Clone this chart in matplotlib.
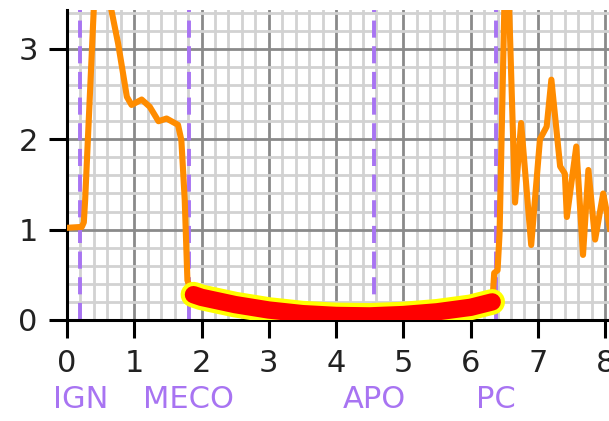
"""Flight-profile strip: orange telemetry trace with event markers and a
highlighted coast-phase fit drawn as a thick red band with a yellow halo."""

import matplotlib.pyplot as plt
import matplotlib.patheffects as pe
from matplotlib.ticker import AutoMinorLocator, MultipleLocator

# telemetry trace (time, value)
TRACE_T = [0.0, 0.22, 0.25, 0.27, 0.45, 0.66, 0.76, 0.89, 0.96, 1.11, 1.23,
           1.36, 1.48, 1.65, 1.70, 1.75, 1.79, 1.85, 2.5, 3.5, 4.5, 5.5, 6.33,
           6.35, 6.40, 6.43, 6.53, 6.66, 6.75, 6.90, 7.03, 7.13, 7.20, 7.28,
           7.33, 7.40, 7.43, 7.57, 7.67, 7.75, 7.85, 7.97, 8.10]
TRACE_Y = [1.02, 1.03, 1.08, 1.33, 4.30, 3.43, 3.06, 2.47, 2.38, 2.44, 2.36,
           2.20, 2.23, 2.16, 1.99, 1.33, 0.44, 0.30, 0.15, 0.06, 0.04, 0.08, 0.28,
           0.52, 0.55, 0.96, 4.50, 1.30, 2.18, 0.83, 2.00, 2.14, 2.66, 2.07,
           1.70, 1.62, 1.14, 1.92, 0.72, 1.66, 0.89, 1.40, 0.90]

# coast-phase fit
FIT_T = [1.88, 2.0, 2.5, 3.0, 3.5, 4.0, 4.5, 5.0, 5.5, 6.0, 6.32]
FIT_Y = [0.28, 0.25, 0.17, 0.11, 0.07, 0.05, 0.045, 0.06, 0.09, 0.14, 0.20]

# flight events
EVENTS = ["IGN", "MECO", "APO", "PC"]
EVENT_T = [0.20, 1.81, 4.57, 6.38]

ORANGE = "#ff8c00"
PURPLE = "#a874f2"


def main():
    fig = plt.figure(figsize=(6.09, 4.21), dpi=100)
    ax = fig.add_axes([0.110, 0.240, 0.939, 0.736])

    for t in EVENT_T:
        ax.axvline(t, color=PURPLE, lw=2.8, ls=(0, (4.4, 2.2)), zorder=2)

    ax.plot(TRACE_T, TRACE_Y, color=ORANGE, lw=4.4, zorder=3,
            solid_joinstyle="round")

    ax.plot(FIT_T, FIT_Y, color="red", lw=12.5, solid_capstyle="round",
            zorder=4,
            path_effects=[pe.Stroke(linewidth=18.5, foreground="yellow",
                                    capstyle="round"),
                          pe.Normal()])

    ax.set_xlim(0, 8.5)
    ax.set_ylim(0, 3.43)
    ax.xaxis.set_major_locator(MultipleLocator(1))
    ax.yaxis.set_major_locator(MultipleLocator(1))
    ax.xaxis.set_minor_locator(AutoMinorLocator(5))
    ax.yaxis.set_minor_locator(AutoMinorLocator(5))

    ax.set_axisbelow(True)
    ax.grid(which="major", color="#8a8a8a", lw=2.0)
    ax.grid(which="minor", color="#d2d2d2", lw=2.0)

    for side in ("top", "right"):
        ax.spines[side].set_visible(False)
    for side in ("left", "bottom"):
        ax.spines[side].set_linewidth(2.2)

    ax.tick_params(which="major", length=13, width=2.2, labelsize=22,
                   labelcolor="#222222", pad=8)
    ax.tick_params(which="minor", length=0)

    trans = ax.get_xaxis_transform()
    for name, t in zip(EVENTS, EVENT_T):
        ax.text(t, -0.258, name, transform=trans, ha="center", va="center",
                fontsize=22, color=PURPLE)

    fig.savefig("out.png", dpi=100)


if __name__ == "__main__":
    main()
